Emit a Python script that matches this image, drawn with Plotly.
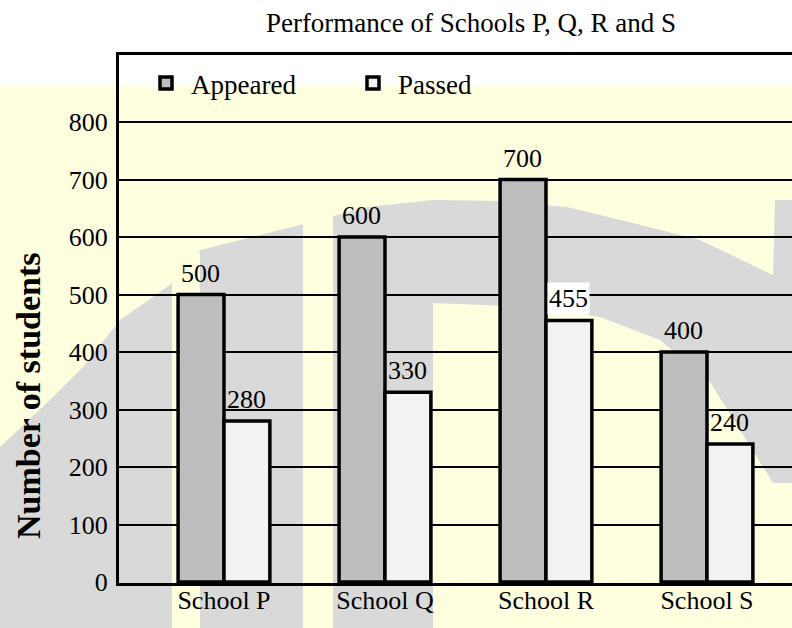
import plotly.graph_objects as go

# ---- data ----
schools = ["School P", "School Q", "School R", "School S"]
appeared = [500, 600, 700, 400]
passed = [280, 330, 455, 240]
y_ticks = [0, 100, 200, 300, 400, 500, 600, 700, 800]

W, H = 792, 628
L, R, T, B = 119, 0, 55, 45
PW, PH = W - L - R, H - T - B

SERIF = "Liberation Serif"
YELLOW = "#FFFFE0"
WGRAY = "#D9D9D9"


def px(x):
    return (x - L) / PW


def py(y):
    return (H - B - y) / PH


def path(points):
    s = "M " + " L ".join(f"{px(x):.4f},{py(y):.4f}" for x, y in points) + " Z"
    return s


fig = go.Figure()
fig.add_trace(go.Bar(
    name="Appeared", x=schools, y=appeared,
    marker=dict(color="#BEBEBE", line=dict(color="black", width=3.5)),
))
fig.add_trace(go.Bar(
    name="Passed", x=schools, y=passed,
    marker=dict(color="#F2F2F2", line=dict(color="black", width=3.5)),
))

# value labels
annotations = []
for i, s in enumerate(schools):
    annotations.append(dict(
        x=s, y=appeared[i], xref="x", yref="y", text=str(appeared[i]),
        showarrow=False, yanchor="bottom", xshift=-23, yshift=5,
        font=dict(family=SERIF, size=26, color="black"),
    ))
    annotations.append(dict(
        x=s, y=passed[i], xref="x", yref="y", text=str(passed[i]),
        showarrow=False, yanchor="bottom", xshift=23, yshift=5,
        bgcolor="white" if s == "School R" else "rgba(0,0,0,0)",
        borderpad=1,
        font=dict(family=SERIF, size=26, color="black"),
    ))

annotations.append(dict(
    text="<b>Number of students</b>", xref="paper", yref="paper",
    x=px(29), y=py(396), textangle=-90, showarrow=False,
    xanchor="center", yanchor="middle",
    font=dict(family=SERIF, size=34, color="black"),
))

# watermark background shapes
shapes = [
    dict(type="rect", xref="paper", yref="paper", x0=px(0), x1=px(W), y0=py(85), y1=py(H),
         fillcolor=YELLOW, line=dict(width=0), layer="below"),
    dict(type="path", xref="paper", yref="paper", layer="below",
         fillcolor=WGRAY, line=dict(width=0),
         path=path([(0, 447), (50, 400), (83, 367), (120, 320), (170, 285), (200, 250),
                    (300, 225), (367, 207), (433, 200), (500, 201), (567, 207), (633, 223),
                    (700, 240), (773, 275), (775, 200), (792, 200), (792, 483), (773, 483),
                    (740, 430), (710, 382), (660, 340), (600, 317), (533, 307), (433, 303),
                    (433, H), (0, H)])),
    dict(type="rect", xref="paper", yref="paper", x0=px(172), x1=px(200), y0=py(252), y1=py(H),
         fillcolor=YELLOW, line=dict(width=0), layer="below"),
    dict(type="rect", xref="paper", yref="paper", x0=px(303), x1=px(333), y0=py(205), y1=py(H),
         fillcolor=YELLOW, line=dict(width=0), layer="below"),
]

fig.update_layout(
    width=W, height=H,
    margin=dict(l=L, r=R, t=T, b=B),
    paper_bgcolor="white",
    plot_bgcolor="rgba(0,0,0,0)",
    barmode="group", bargap=0.43, bargroupgap=0,
    showlegend=True,
    legend=dict(orientation="h", x=px(141), y=py(59), xanchor="left", yanchor="top",
                bgcolor="rgba(0,0,0,0)", entrywidth=152, entrywidthmode="pixels",
                itemwidth=40,
                font=dict(family=SERIF, size=27, color="black")),
    title=dict(text="Performance of Schools P, Q, R and S", x=px(471), xanchor="center",
               y=1 - 23 / H, yanchor="middle", xref="paper",
               font=dict(family=SERIF, size=27, color="black")),
    annotations=annotations,
    shapes=shapes,
    font=dict(family=SERIF, color="black"),
)
fig.update_xaxes(
    range=[-0.652, 3.528], showline=True, linecolor="black", linewidth=3, mirror=True,
    showgrid=False, ticks="", ticklabelstandoff=-8,
    tickfont=dict(family=SERIF, size=26, color="black"),
)
fig.update_yaxes(
    range=[-1.7, 916.5], tickvals=y_ticks, showline=True, linecolor="black", linewidth=3,
    showgrid=True, gridcolor="black", gridwidth=1.6, zeroline=False,
    ticks="", ticklabelstandoff=3,
    tickfont=dict(family=SERIF, size=26, color="black"),
)

fig.write_html(
    "out.html",
    config={"displayModeBar": False},
    post_script="document.body.style.margin='0';document.body.style.overflow='hidden';",
)
